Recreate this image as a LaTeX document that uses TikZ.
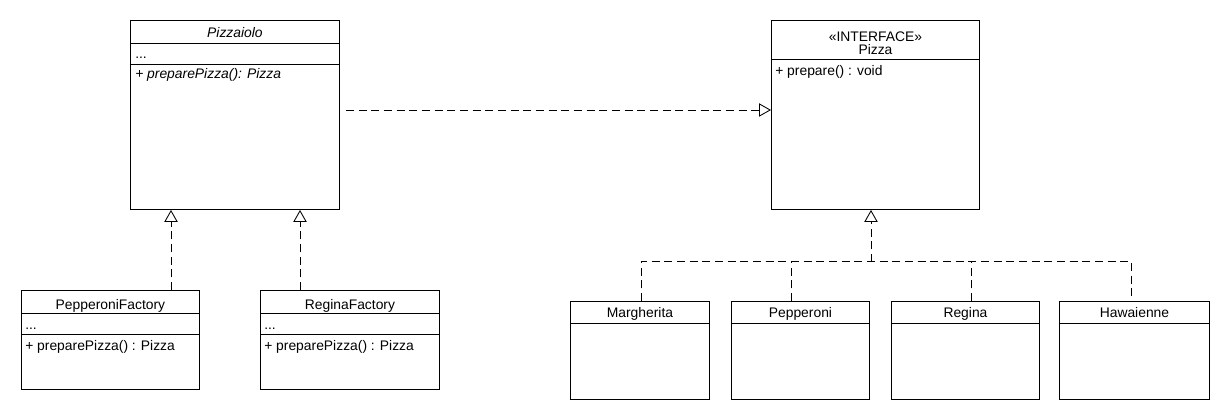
\documentclass[tikz,border=0pt]{standalone}
\usepackage{fontspec}
\setmainfont{Liberation Sans}
\usetikzlibrary{arrows.meta,calc}
\newcommand\umlbox[5]{\node[box, minimum width=#4*0.75pt, minimum height=#5*0.75pt] (#1) at (#2,#3) {};}
\begin{document}
\begin{tikzpicture}[x=0.75pt,y=-0.75pt,
  box/.style={draw, rectangle, anchor=north west, inner sep=0pt, line width=0.7pt},
  sep/.style={line width=0.7pt},
  lbl/.style={inner sep=0pt, anchor=base, font=\fontsize{10.4}{12}\selectfont},
  lft/.style={lbl, anchor=base west},
  dashline/.style={line width=0.65pt, dash pattern=on 6pt off 3.5pt},
  realize/.style={dashline, -{Triangle[open, length=9pt, width=10pt, line width=0.65pt]}}]
\fill[white] (0,0) rectangle (1230,420);
\useasboundingbox (0,0) rectangle (1230,420);

% classes
\umlbox{pz}{130}{20}{209}{189}
\umlbox{pi}{771}{20}{208}{189}
\umlbox{pf}{21}{290}{178}{99}
\umlbox{rf}{260}{290}{179}{99}
\umlbox{ma}{570}{301}{139}{98}
\umlbox{pe}{731}{301}{138}{98}
\umlbox{re}{891}{301}{148}{98}
\umlbox{ha}{1059}{301}{150}{98}

% compartments
\draw[sep] ($(pz.north west)+(0,23)$) -- ($(pz.north east)+(0,23)$);
\draw[sep] ($(pz.north west)+(0,44)$) -- ($(pz.north east)+(0,44)$);
\draw[sep] ($(pi.north west)+(0,39)$) -- ($(pi.north east)+(0,39)$);
\foreach \b in {pf,rf}{
  \draw[sep] ($(\b.north west)+(0,23)$) -- ($(\b.north east)+(0,23)$);
  \draw[sep] ($(\b.north west)+(0,44)$) -- ($(\b.north east)+(0,44)$);
}
\foreach \b in {ma,pe,re,ha}{
  \draw[sep] ($(\b.north west)+(0,22)$) -- ($(\b.north east)+(0,22)$);
}

% texts
\node[lbl] (pzT) at ($(pz.north)+(0,18)$) {\itshape Pizzaiolo};
\node[lft] (pzA) at ($(pz.north west)+(5,39)$) {...};
\node[lft] (pzM) at ($(pz.north west)+(5,59)$) {\itshape + preparePizza(): Pizza};

\node[lbl] (piS) at ($(pi.north)+(0,22)$) {«INTERFACE»};
\node[lbl] (piT) at ($(pi.north)+(0,35)$) {Pizza};
\node[lft] (piM) at ($(pi.north west)+(4,56)$) {+ prepare() : void};

\node[lbl] (pfT) at ($(pf.north)+(0,19)$) {PepperoniFactory};
\node[lft] (pfA) at ($(pf.north west)+(4,39)$) {...};
\node[lft] (pfM) at ($(pf.north west)+(4,60)$) {+ preparePizza() : Pizza};

\node[lbl] (rfT) at ($(rf.north)+(0,19)$) {ReginaFactory};
\node[lft] (rfA) at ($(rf.north west)+(4,39)$) {...};
\node[lft] (rfM) at ($(rf.north west)+(4,60)$) {+ preparePizza() : Pizza};

\node[lbl] (maT) at ($(ma.north)+(0,16)$) {Margherita};
\node[lbl] (peT) at ($(pe.north)+(0,16)$) {Pepperoni};
\node[lbl] (reT) at ($(re.north)+(0,16)$) {Regina};
\node[lbl] (haT) at ($(ha.north)+(0,16)$) {Hawaienne};

% connectors
\draw[realize] ($(pz.north east)+(6,90)$) -- ($(pi.north west)+(0,90)$);
\draw[realize] ($(pf.north west)+(150,0)$) -- ($(pz.south west)+(41,0)$);
\draw[realize] ($(rf.north west)+(40,0)$) -- ($(pz.south west)+(170,0)$);

\coordinate (bus) at ($(pi.south west)+(100,52)$);
\draw[dashline] ($(ma.north west)+(71,0)$) |- ($(ha.north west)+(72,-40)$) -- ($(ha.north west)+(72,0)$);
\draw[dashline] ($(pe.north west)+(60,0)$) -- ($(pe.north west)+(60,-40)$);
\draw[dashline] ($(re.north west)+(80,0)$) -- ($(re.north west)+(80,-40)$);
\draw[realize] (bus) -- ($(pi.south west)+(100,0)$);
\end{tikzpicture}
\end{document}
